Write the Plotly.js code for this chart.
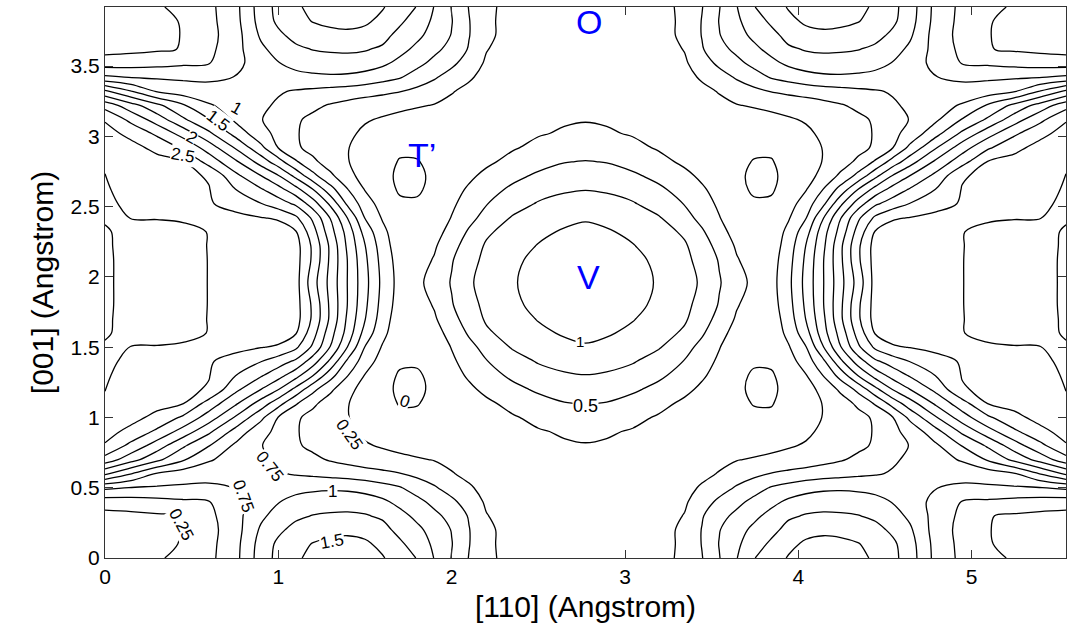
<!DOCTYPE html>
<html><head><meta charset="utf-8">
<script src="https://cdn.plot.ly/plotly-3.0.1.min.js"></script>
<style>html,body{margin:0;padding:0;background:#fff}#chart{width:1074px;height:635px}</style>
</head><body><div id="chart"></div>
<script>
// Quarter of the (symmetric) map: x = [110] 0..2.772, y = [001] 0..1.96
const xQuarter = [0, 0.15, 0.3, 0.45, 0.6, 0.75, 0.9, 1.0, 1.1, 1.2, 1.3, 1.4, 1.5, 1.6, 1.7, 1.8, 1.9, 2.0, 2.1, 2.2, 2.35, 2.5, 2.65, 2.772];
const yQuarter = [0, 0.1, 0.2, 0.3, 0.4, 0.5, 0.6, 0.7, 0.8, 0.9, 1.0, 1.1, 1.2, 1.3, 1.4, 1.5, 1.6, 1.7, 1.8, 1.96];
// energy values (eV), one row per yQuarter entry
const zQuarter = [
  [0.09, 0.12, 0.22, 0.32, 0.44, 0.67, 1.12, 1.32, 1.47, 1.55, 1.6, 1.62, 1.58, 1.52, 1.38, 1.24, 0.99, 0.74, 0.49, 0.31, 0.16, 0.12, 0.11, 0.10],
  [0.10, 0.12, 0.17, 0.27, 0.43, 0.66, 1.1, 1.3, 1.43, 1.51, 1.55, 1.57, 1.54, 1.44, 1.3, 1.12, 0.96, 0.76, 0.51, 0.3, 0.16, 0.12, 0.11, 0.10],
  [0.12, 0.14, 0.18, 0.26, 0.42, 0.64, 1.04, 1.2, 1.33, 1.4, 1.44, 1.45, 1.42, 1.34, 1.17, 1.06, 0.9, 0.74, 0.51, 0.3, 0.16, 0.12, 0.11, 0.10],
  [0.17, 0.19, 0.22, 0.26, 0.44, 0.66, 0.95, 1.1, 1.2, 1.26, 1.28, 1.29, 1.27, 1.21, 1.08, 0.94, 0.81, 0.67, 0.48, 0.26, 0.15, 0.12, 0.11, 0.10],
  [0.37, 0.39, 0.42, 0.46, 0.49, 0.68, 0.87, 0.99, 1.07, 1.12, 1.15, 1.15, 1.12, 1.05, 0.93, 0.82, 0.68, 0.56, 0.37, 0.22, 0.15, 0.12, 0.11, 0.11],
  [0.8, 0.74, 0.72, 0.71, 0.71, 0.755, 0.84, 0.9, 0.93, 0.95, 0.96, 0.95, 0.91, 0.84, 0.77, 0.64, 0.53, 0.38, 0.27, 0.2, 0.15, 0.13, 0.12, 0.12],
  [1.55, 1.26, 0.98, 0.88, 0.83, 0.8, 0.8, 0.77, 0.73, 0.7, 0.67, 0.64, 0.6, 0.56, 0.51, 0.44, 0.35, 0.26, 0.21, 0.18, 0.15, 0.14, 0.13, 0.13],
  [2.15, 1.85, 1.56, 1.28, 1.03, 0.88, 0.79, 0.72, 0.63, 0.55, 0.48, 0.42, 0.37, 0.33, 0.3, 0.27, 0.24, 0.21, 0.19, 0.18, 0.17, 0.17, 0.17, 0.17],
  [2.48, 2.18, 1.88, 1.54, 1.26, 0.96, 0.76, 0.65, 0.53, 0.45, 0.39, 0.33, 0.27, 0.23, 0.19, 0.16, 0.15, 0.15, 0.16, 0.17, 0.19, 0.21, 0.23, 0.24],
  [2.58, 2.44, 2.2, 1.9, 1.55, 1.17, 0.83, 0.69, 0.52, 0.42, 0.36, 0.29, 0.21, 0.14, 0.1, 0.09, 0.1, 0.12, 0.14, 0.16, 0.2, 0.235, 0.27, 0.29],
  [2.63, 2.57, 2.44, 2.21, 1.88, 1.48, 1.06, 0.74, 0.54, 0.42, 0.33, 0.26, 0.15, 0.07, 0.03, 0.04, 0.07, 0.1, 0.13, 0.17, 0.23, 0.3, 0.36, 0.38],
  [2.72, 2.62, 2.57, 2.51, 2.15, 1.8, 1.39, 1.1, 0.78, 0.55, 0.38, 0.26, 0.15, 0.06, -0.01, -0.01, 0.05, 0.1, 0.16, 0.21, 0.31, 0.41, 0.49, 0.51],
  [2.755, 2.63, 2.59, 2.55, 2.48, 2.07, 1.75, 1.51, 1.18, 0.82, 0.55, 0.32, 0.16, 0.05, -0.03, -0.03, 0.03, 0.13, 0.21, 0.3, 0.43, 0.54, 0.6, 0.62],
  [2.78, 2.65, 2.6, 2.56, 2.51, 2.26, 2.03, 1.85, 1.6, 1.26, 0.85, 0.51, 0.24, 0.08, -0.02, -0.02, 0.04, 0.17, 0.28, 0.4, 0.55, 0.66, 0.72, 0.745],
  [2.82, 2.68, 2.63, 2.58, 2.52, 2.42, 2.26, 2.12, 1.96, 1.62, 1.2, 0.7, 0.37, 0.15, 0.03, 0.02, 0.08, 0.21, 0.35, 0.49, 0.65, 0.77, 0.84, 0.87],
  [2.95, 2.74, 2.74, 2.73, 2.7, 2.56, 2.51, 2.47, 2.3, 1.95, 1.49, 0.99, 0.49, 0.23, 0.05, 0.02, 0.1, 0.26, 0.43, 0.58, 0.77, 0.88, 0.95, 0.98],
  [3.05, 2.85, 2.82, 2.79, 2.745, 2.7, 2.66, 2.62, 2.52, 2.1, 1.6, 1.15, 0.65, 0.32, 0.08, 0.06, 0.15, 0.34, 0.53, 0.71, 0.85, 0.96, 1.02, 1.05],
  [3.05, 2.88, 2.85, 2.8, 2.745, 2.71, 2.67, 2.64, 2.6, 2.2, 1.7, 1.2, 0.76, 0.37, 0.11, 0.1, 0.22, 0.42, 0.61, 0.78, 0.92, 1.01, 1.07, 1.1],
  [3.05, 2.9, 2.87, 2.82, 2.745, 2.71, 2.67, 2.64, 2.6, 2.2, 1.7, 1.24, 0.8, 0.41, 0.14, 0.14, 0.27, 0.48, 0.68, 0.8, 0.96, 1.05, 1.12, 1.15],
  [3.05, 2.9, 2.87, 2.82, 2.745, 2.71, 2.67, 2.64, 2.6, 2.1, 1.67, 1.24, 0.83, 0.44, 0.16, 0.2, 0.33, 0.52, 0.72, 0.83, 0.98, 1.08, 1.16, 1.2]
];
const xTicks = [0, 1, 2, 3, 4, 5];
const yTicks = [0, 0.5, 1, 1.5, 2, 2.5, 3, 3.5];
const levels = {start: 0, end: 3, size: 0.25};
const XMAX = 5.544, YMAX = 3.92;

// The map is mirror-symmetric about x = XMAX/2 and y = YMAX/2: build the full table from the quarter.
const xFull = xQuarter.concat(xQuarter.slice(0, -1).reverse().map(v => +(XMAX - v).toFixed(3)));
const yFull = yQuarter.concat(yQuarter.slice(0, -1).reverse().map(v => +(YMAX - v).toFixed(3)));
const mirrorRow = r => r.concat(r.slice(0, -1).reverse());
const zHalf = zQuarter.map(mirrorRow);
const zFull = zHalf.concat(zHalf.slice(0, -1).reverse());

const trace = {
  type: 'contour', x: xFull, y: yFull, z: zFull, showscale: false,
  contours: {start: levels.start, end: levels.end, size: levels.size, coloring: 'none'},
  line: {color: '#000', width: 1.3, smoothing: 1}, hoverinfo: 'skip'
};

const F = 'Liberation Sans, Arial, Helvetica, sans-serif';
const lab = (x, y, t, a, s) => ({x, y, xref: 'x', yref: 'y', text: t, showarrow: false, textangle: a,
  font: {family: F, size: s || 17, color: '#000'}, bgcolor: '#fff', borderpad: 0});
const site = (x, y, t) => ({x, y, xref: 'x', yref: 'y', text: t, showarrow: false,
  font: {family: F, size: 34, color: '#0000ff'}});

const annotations = [
  lab(0.76, 3.2, '1', 30), lab(0.65, 3.11, '1.5', 37), lab(0.5, 2.99, '2', 30), lab(0.45, 2.86, '2.5', 10),
  lab(1.73, 1.11, '0', 20), lab(1.41, 0.88, '0.25', 55), lab(0.95, 0.65, '0.75', 52), lab(0.8, 0.44, '0.75', 70),
  lab(0.44, 0.24, '0.25', 62), lab(1.31, 0.47, '1', 0), lab(1.31, 0.12, '1.5', -10),
  lab(2.74, 1.54, '1', 0, 15), lab(2.77, 1.08, '0.5', 0, 18),
  site(2.79, 3.81, 'O'), site(1.83, 2.87, 'T’'), site(2.79, 2.0, 'V')
];

const axisCommon = {ticks: 'inside', ticklen: 8, tickcolor: '#333', showline: true, linecolor: '#333', linewidth: 1,
  mirror: 'ticks', showgrid: false, zeroline: false, tickfont: {family: F, size: 21, color: '#000'}};

const layout = {
  width: 1074, height: 635, margin: {l: 105, r: 8, t: 7, b: 77},
  paper_bgcolor: '#fff', plot_bgcolor: '#fff', showlegend: false,
  font: {family: F, color: '#000'},
  xaxis: Object.assign({}, axisCommon, {range: [0, XMAX], tickvals: xTicks,
    title: {text: '[110] (Angstrom)', font: {family: F, size: 30, color: '#000'}, standoff: 8}}),
  yaxis: Object.assign({}, axisCommon, {range: [0, YMAX], tickvals: yTicks,
    title: {text: '[001] (Angstrom)', font: {family: F, size: 30, color: '#000'}, standoff: 8}}),
  annotations
};

Plotly.newPlot('chart', [trace], layout, {displayModeBar: false, staticPlot: true});
</script>
</body></html>
